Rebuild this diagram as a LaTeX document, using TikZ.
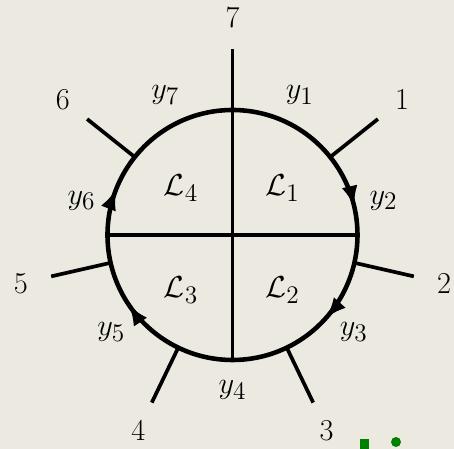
\documentclass[tikz,border=0pt]{standalone}
\usetikzlibrary{arrows.meta,decorations.markings}
\definecolor{paper}{HTML}{ECEAE0}
\definecolor{dotgreen}{HTML}{008000}

\begin{document}
\begin{tikzpicture}[>={Latex[length=0.42cm,width=0.32cm]},every node/.style={font=\fontsize{19}{22}\selectfont},
  leg/.style={line width=2.1pt},
  flow/.style={postaction={decorate},decoration={markings,
    mark=at position 0.036 with {\arrowreversed{>}},
    mark=at position 0.440 with {\arrowreversed{>}},
    mark=at position 0.594 with {\arrowreversed{>}},
    mark=at position 0.884 with {\arrowreversed{>}}}}]
\fill[paper] (-4.65,-4.28) rectangle (4.43,4.70);
\useasboundingbox (-4.65,-4.28) rectangle (4.43,4.70);
\coordinate (o) at (0,0);
\draw[line width=2.6pt,flow] (o) circle (2.5);
% external legs, numbers and edge labels
\foreach \k [evaluate=\k as \a using 90-\k*360/7] in {1,...,7}{
  \coordinate (in\k) at (\a:2.5);
  \coordinate (out\k) at (\a:3.72);
  \draw[leg] (in\k) -- (out\k);
  \node (n\k) at (\a:4.34) {$\k$};
  \node (y\k) at (\a+360/14:3.1) {$y_{\k}$};
}
% internal lines
\coordinate (bot) at (-90:2.5);
\coordinate (west) at (180:2.5);
\coordinate (east) at (0:2.5);
\draw[leg] (in7) -- (bot);
\draw[leg] (west) -- (east);
\node (L1) at (1.0,0.94) {$\mathcal{L}_1$};
\node (L2) at (1.0,-1.1) {$\mathcal{L}_2$};
\node (L3) at (-1.03,-1.1) {$\mathcal{L}_3$};
\node (L4) at (-1.03,0.94) {$\mathcal{L}_4$};
\fill[dotgreen] (2.55,-4.28) rectangle (2.73,-4.08);
\fill[dotgreen] (3.27,-4.14) circle (0.1);
\end{tikzpicture}
\end{document}
